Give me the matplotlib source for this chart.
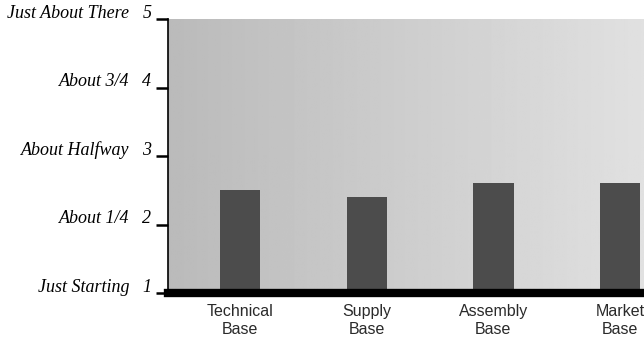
import numpy as np
import matplotlib
matplotlib.use("Agg")
import matplotlib.pyplot as plt

categories = ["Technical\nBase", "Supply\nBase", "Assembly\nBase", "Market\nBase"]
scores = [2.5, 2.4, 2.6, 2.6]
levels = [1, 2, 3, 4, 5]
level_names = ["Just Starting", "About 1/4", "About Halfway", "About 3/4", "Just About There"]

fig = plt.figure(figsize=(6.44, 3.41), dpi=100)
ax = fig.add_axes([168 / 644, 48 / 341, 476 / 644, 274 / 341])

x = np.arange(len(categories))
ax.set_xlim(-0.57, 3.19)
ax.set_ylim(1, 5)

# textured grey background (darker on the left, lighter on the right)
grad = np.linspace(0.73, 0.88, 256)[None, :]
ax.imshow(grad, cmap="gray", vmin=0, vmax=1, aspect="auto",
          extent=(-0.57, 3.19, 1, 5), zorder=0)

ax.bar(x, np.array(scores) - 1, bottom=1, width=0.32, color="#4c4c4c", zorder=2)
ax.axhline(1, color="black", linewidth=6, zorder=3, clip_on=False)

for s in ["top", "right", "bottom"]:
    ax.spines[s].set_visible(False)
ax.spines["left"].set_linewidth(1.2)

ax.set_yticks(levels)
ax.set_yticklabels([])
ax.tick_params(axis="y", direction="out", length=9, width=1.8, color="black")
ax.set_xticks(x)
ax.set_xticklabels(categories, family="Liberation Sans", fontsize=11.5,
                   color="#2a2a2a", linespacing=1.2)
ax.tick_params(axis="x", length=0, pad=8)

for lv, name in zip(levels, level_names):
    ax.annotate(str(lv), xy=(0, lv), xycoords=("axes fraction", "data"),
                xytext=(-12, 1), textcoords="offset points", ha="right",
                va="baseline", family="Liberation Serif", style="italic",
                fontsize=13)
    ax.annotate(name, xy=(0, lv), xycoords=("axes fraction", "data"),
                xytext=(-28, 1), textcoords="offset points", ha="right",
                va="baseline", family="Liberation Serif", style="italic",
                fontsize=13)

fig.savefig("out.png", dpi=100)
